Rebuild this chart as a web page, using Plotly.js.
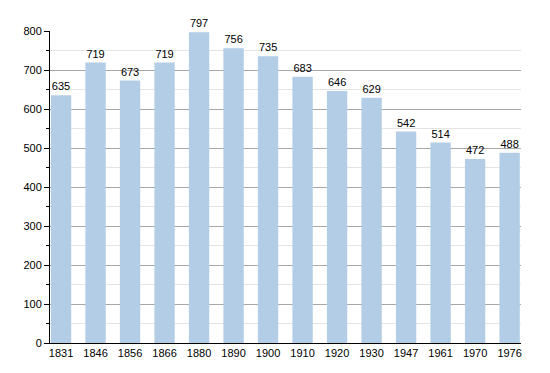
<!DOCTYPE html>
<html><head><meta charset="utf-8">
<script src="https://cdn.plot.ly/plotly-3.0.1.min.js"></script>
<style>body{margin:0;padding:0;background:#fff}#c{width:550px;height:373px}</style>
</head><body><div id="c"></div>
<script>
const years = ["1831","1846","1856","1866","1880","1890","1900","1910","1920","1930","1947","1961","1970","1976"];
const population = [635,719,673,719,797,756,735,683,646,629,542,514,472,488];

const trace = {
  type: 'bar',
  x: years,
  y: population,
  text: population.map(String),
  textposition: 'outside',
  cliponaxis: false,
  textfont: {family: 'Liberation Sans, Arial, sans-serif', size: 11, color: '#000'},
  marker: {color: '#b3cde6', line: {width: 0}},
  hoverinfo: 'x+y'
};

const layout = {
  width: 550, height: 373,
  margin: {l: 50, r: 29, t: 31, b: 30},
  paper_bgcolor: '#fff', plot_bgcolor: '#fff',
  bargap: 0.41,
  showlegend: false,
  font: {family: 'Liberation Sans, Arial, sans-serif', size: 11, color: '#000'},
  xaxis: {
    type: 'category',
    range: [-0.32, 13.33],
    showline: true, linecolor: '#000', linewidth: 1,
    ticks: '', showgrid: false,
    tickfont: {size: 11}
  },
  yaxis: {
    range: [0, 800],
    dtick: 100,
    showline: true, linecolor: '#000', linewidth: 1,
    ticks: 'outside', ticklen: 5, tickcolor: '#000',
    showgrid: true, gridcolor: '#a8a8a8', gridwidth: 1,
    zeroline: false,
    tickfont: {size: 11},
    minor: {dtick: 50, ticks: 'outside', ticklen: 3, tickcolor: '#000', showgrid: true, gridcolor: '#e4e4e4', gridwidth: 1}
  }
};

Plotly.newPlot('c', [trace], layout, {displayModeBar: false, staticPlot: true});
</script></body></html>
